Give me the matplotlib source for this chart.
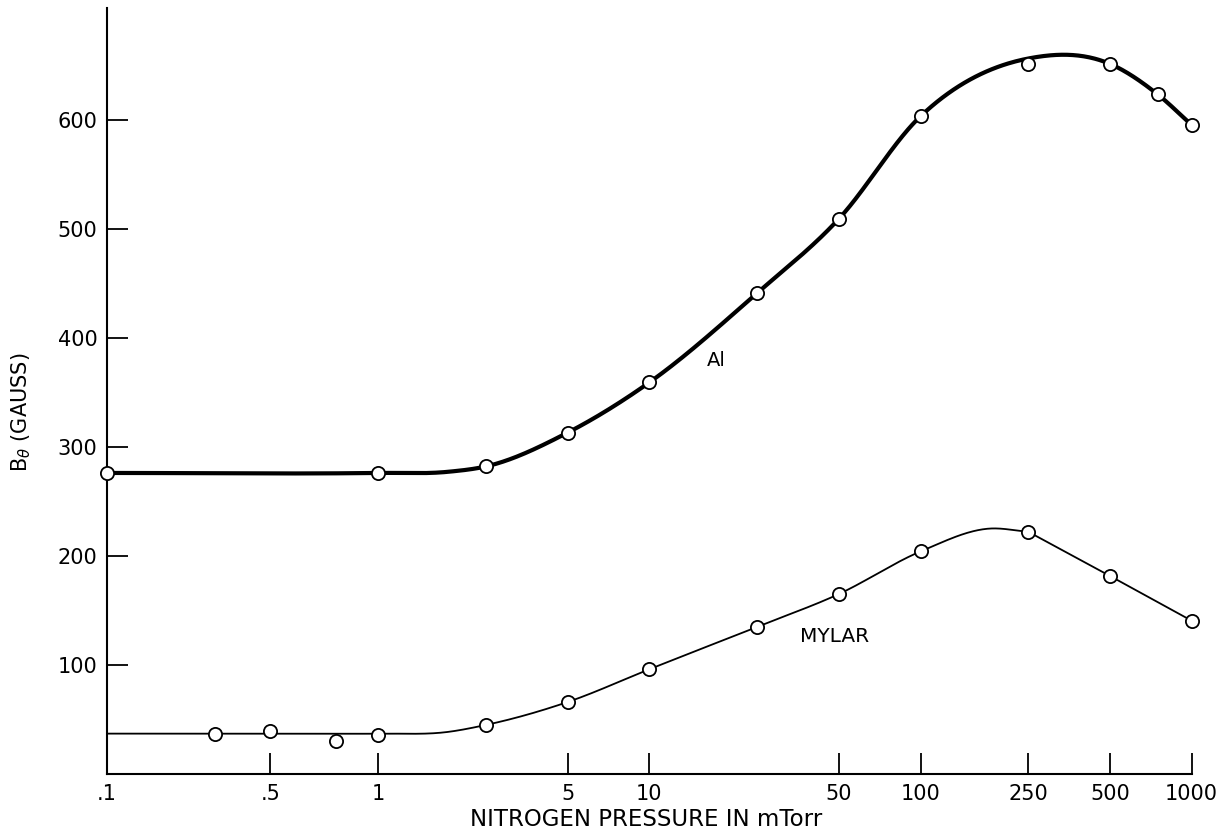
import numpy as np
import matplotlib
matplotlib.use("Agg")
import matplotlib.pyplot as plt

# measured points (mTorr, gauss)
al_x = [0.1, 1, 2.5, 5, 10, 25, 50, 100, 250, 500, 750, 1000]
al_y = [276, 276, 282, 313, 359, 441, 509, 603, 651, 651, 623, 595]

mylar_x = [0.25, 0.4, 0.7, 1, 2.5, 5, 10, 25, 50, 100, 250, 500, 1000]
mylar_y = [36.5, 39, 30, 36, 45, 66, 96, 135, 165, 204, 222, 181.5, 140.5]

# hand drawn fitted curves
al_curve_x = [0.1, 1, 1.8, 2.5, 5, 10, 25, 50, 100, 250, 500, 750, 1000]
al_curve_y = [276, 276, 277, 282, 313, 359, 441, 509, 603, 656, 651, 623, 595]
mylar_curve_x = [0.1, 0.5, 1, 1.8, 2.5, 5, 10, 25, 50, 100, 180, 250]
mylar_curve_y = [37, 37, 37, 38.5, 45, 66, 96, 135, 165, 204, 225, 222]
mylar_tail_x = [250, 500, 1000]
mylar_tail_y = [222, 181.5, 140.5]

xtick_pos = [0.1, 0.4, 1, 5, 10, 50, 100, 250, 500, 1000]
xtick_lab = [".1", ".5", "1", "5", "10", "50", "100", "250", "500", "1000"]
ytick_pos = [100, 200, 300, 400, 500, 600]


def smooth(xs, ys, n=60):
    # cubic hermite in log10(x), three point tangents
    u = np.log10(xs)
    y = np.array(ys, float)
    h = np.diff(u)
    s = np.diff(y) / h
    d = np.zeros(len(u))
    d[0], d[-1] = s[0], s[-1]
    d[1:-1] = (h[1:] * s[:-1] + h[:-1] * s[1:]) / (h[:-1] + h[1:])
    ox, oy = [], []
    for i in range(len(h)):
        t = np.linspace(0, 1, n)
        h00 = 2 * t**3 - 3 * t**2 + 1
        h10 = t**3 - 2 * t**2 + t
        h01 = -2 * t**3 + 3 * t**2
        h11 = t**3 - t**2
        ox.append(u[i] + t * h[i])
        oy.append(h00 * y[i] + h10 * h[i] * d[i] + h01 * y[i + 1] + h11 * h[i] * d[i + 1])
    return 10**np.concatenate(ox), np.concatenate(oy)


fig = plt.figure(figsize=(12.16, 8.39), dpi=100)
ax = fig.add_axes([0.088, 0.0775, 0.892, 0.9126])

cx, cy = smooth(al_curve_x, al_curve_y)
ax.plot(cx, cy, color="black", lw=3.0, zorder=2)
ax.plot(al_x, al_y, "o", ms=9.5, mfc="white", mec="black", mew=1.3, zorder=3, clip_on=False)

mx, my = smooth(mylar_curve_x, mylar_curve_y)
mx = np.concatenate([mx, mylar_tail_x[1:]])
my = np.concatenate([my, mylar_tail_y[1:]])
ax.plot(mx, my, color="black", lw=1.3, zorder=2)
ax.plot(mylar_x, mylar_y, "o", ms=9.5, mfc="white", mec="black", mew=1.3, zorder=3, clip_on=False)

ax.set_xscale("log")
ax.set_xlim(0.1, 1000)
ax.set_ylim(0, 702)
ax.set_xticks(xtick_pos)
ax.set_xticklabels(xtick_lab)
ax.xaxis.set_minor_locator(matplotlib.ticker.NullLocator())
ax.set_yticks(ytick_pos)
ax.tick_params(direction="in", length=15, width=1.3, labelsize=15, pad=7)
for s in ["top", "right"]:
    ax.spines[s].set_visible(False)
for s in ["left", "bottom"]:
    ax.spines[s].set_linewidth(1.5)

ax.annotate("Al", xy=(716 / 1216, 1 - 361 / 839), xycoords="figure fraction",
            fontsize=14, ha="center", va="center")
ax.annotate("MYLAR", xy=(835 / 1216, 1 - 637 / 839), xycoords="figure fraction",
            fontsize=14.5, ha="center", va="center")

fig.text(646 / 1216, 1 - 820 / 839, "NITROGEN PRESSURE IN mTorr",
         fontsize=16.5, ha="center", va="center")
fig.text(21 / 1216, 1 - 412 / 839, r"B$_\theta$ (GAUSS)", fontsize=15,
         rotation=90, ha="center", va="center")

fig.savefig("out.png", dpi=100)
